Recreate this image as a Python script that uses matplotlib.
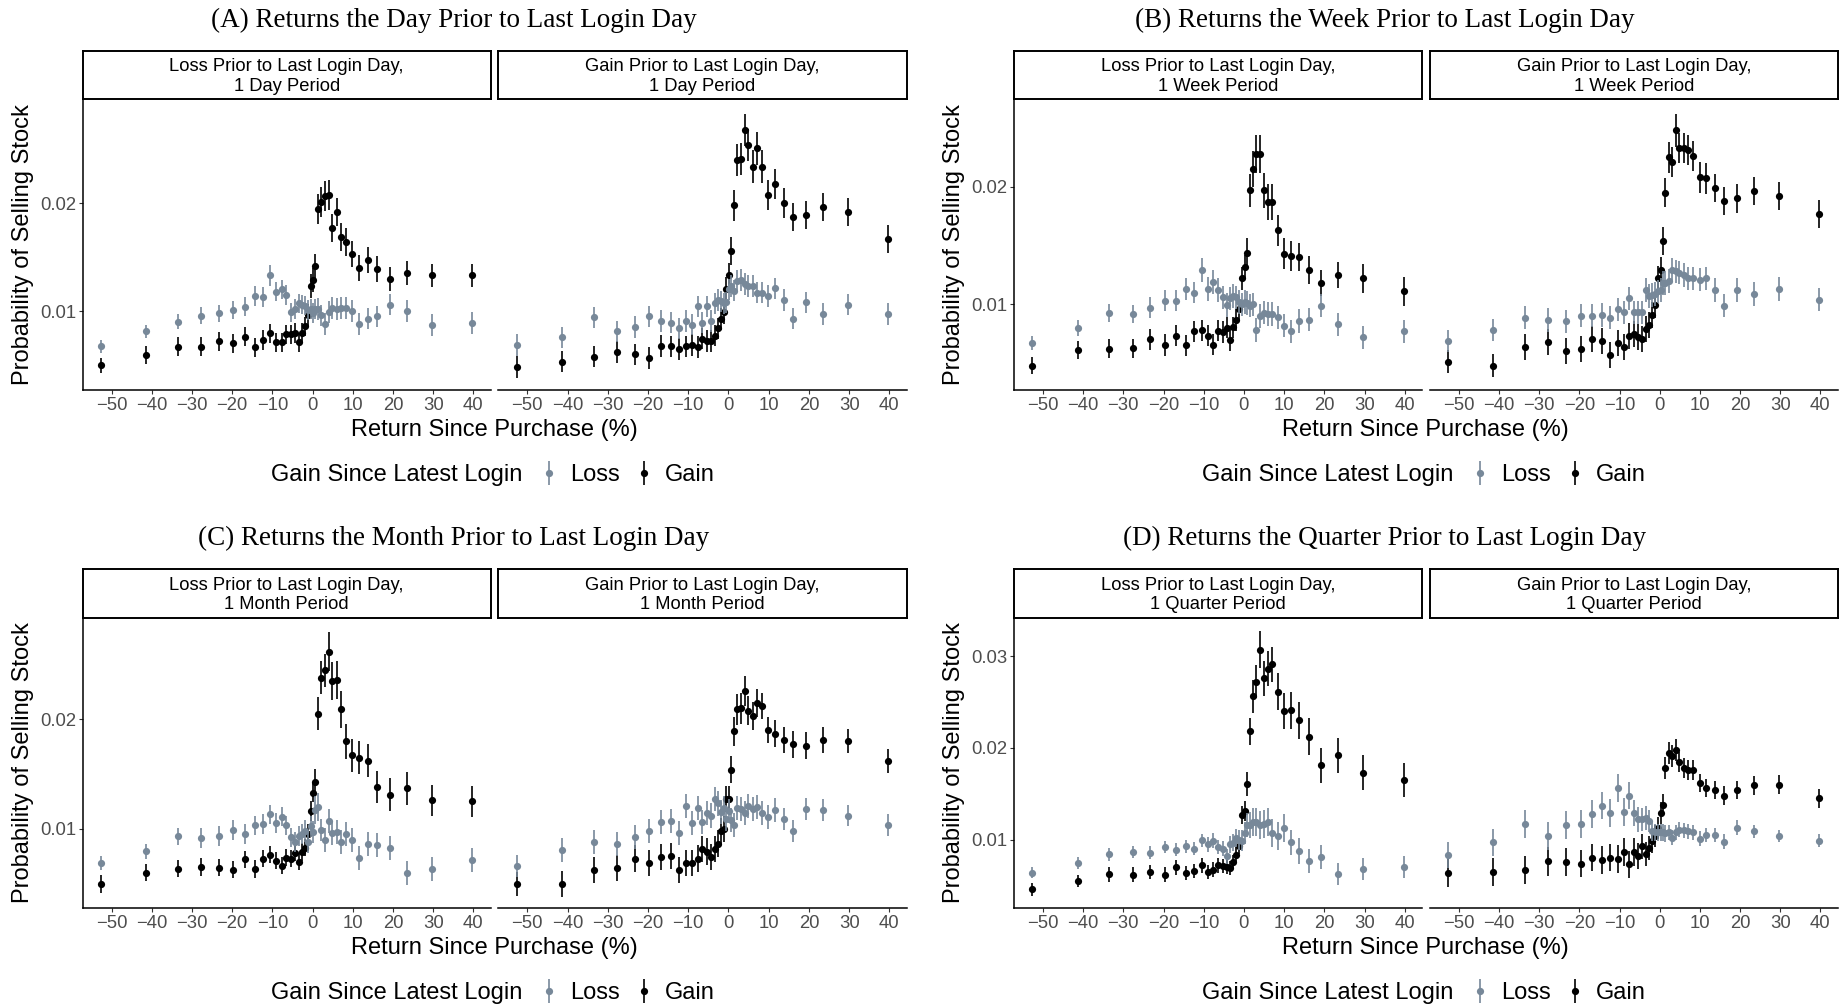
import matplotlib
matplotlib.use('Agg')
import matplotlib.pyplot as plt
import numpy as np

plt.rcParams['font.family'] = ['Liberation Sans', 'DejaVu Sans']

# return-since-purchase bins (%), shared by every facet
ret_bins = [-52.6, -41.4, -33.5, -27.7, -23.3, -19.7, -16.8, -14.3, -12.3, -10.5,
            -9.0, -7.6, -6.5, -5.3, -4.3, -3.4, -2.6, -1.9, -1.2, -0.5,
            0.2, 0.7, 1.4, 2.2, 3.1, 4.0, 4.9, 6.0, 7.0, 8.4,
            9.9, 11.6, 13.7, 16.1, 19.2, 23.4, 29.6, 39.7]
x_ticks = [-50, -40, -30, -20, -10, 0, 10, 20, 30, 40]

# (A) day period -- facet 1: loss prior, facet 2: gain prior
a1_loss = [0.00675, 0.00814, 0.0090, 0.00957, 0.00978, 0.0101, 0.0104, 0.0114, 0.0113, 0.0133,
           0.0118, 0.0120, 0.0115, 0.00988, 0.0102, 0.0107, 0.0106, 0.0105, 0.0101, 0.0102,
           0.0098, 0.0102, 0.0102, 0.0096, 0.0088, 0.0099, 0.0103, 0.0102, 0.0103, 0.0103,
           0.0100, 0.0088, 0.0093, 0.0095, 0.0106, 0.0100, 0.0087, 0.0089]
a1_gain = [0.00498, 0.00591, 0.00669, 0.00669, 0.00718, 0.0070, 0.00762, 0.00663, 0.0073, 0.00793,
           0.0071, 0.0071, 0.00783, 0.00783, 0.00796, 0.0071, 0.0080, 0.00858, 0.00963, 0.0123,
           0.0129, 0.0142, 0.0195, 0.0201, 0.0207, 0.0208, 0.0177, 0.0192, 0.0169, 0.0164,
           0.0153, 0.0140, 0.0147, 0.0139, 0.0130, 0.0135, 0.0133, 0.0133]
a2_loss = [0.00684, 0.00755, 0.00941, 0.00811, 0.00851, 0.0095, 0.00907, 0.00892, 0.00839, 0.00907,
           0.00873, 0.01043, 0.00892, 0.01043, 0.00907, 0.0107, 0.0110, 0.0109, 0.0107, 0.0108,
           0.0120, 0.0123, 0.0119, 0.0128, 0.0129, 0.0125, 0.0123, 0.0123, 0.0117, 0.0117,
           0.0114, 0.0121, 0.0110, 0.0093, 0.0108, 0.0097, 0.0106, 0.0097]
a2_gain = [0.00483, 0.0053, 0.00576, 0.00622, 0.00598, 0.00563, 0.00675, 0.00672, 0.0065, 0.00672,
           0.00684, 0.00666, 0.00743, 0.00721, 0.00721, 0.00771, 0.00839, 0.00926, 0.00994, 0.0120,
           0.0133, 0.0156, 0.0198, 0.0240, 0.0241, 0.0268, 0.0254, 0.0234, 0.0251, 0.0234,
           0.0208, 0.0218, 0.0200, 0.0187, 0.0189, 0.0197, 0.0192, 0.0167]

# (B) week period
b1_loss = [0.00669, 0.00799, 0.00926, 0.00918, 0.00972, 0.0103, 0.0103, 0.0113, 0.0110, 0.0129,
           0.0113, 0.0119, 0.0112, 0.0106, 0.00994, 0.0105, 0.0107, 0.0106, 0.0102, 0.0100,
           0.0102, 0.0101, 0.0099, 0.0100, 0.0078, 0.0090, 0.0093, 0.0092, 0.0092, 0.0089,
           0.0082, 0.0077, 0.0086, 0.0087, 0.0099, 0.0083, 0.0072, 0.0077]
b1_gain = [0.00479, 0.00612, 0.00623, 0.00626, 0.00703, 0.00654, 0.00734, 0.00652, 0.0077, 0.00779,
           0.00734, 0.00657, 0.00776, 0.00765, 0.00802, 0.00694, 0.00805, 0.00867, 0.00958, 0.0122,
           0.0132, 0.0144, 0.0197, 0.0215, 0.0228, 0.0228, 0.0197, 0.0187, 0.0187, 0.0163,
           0.0143, 0.0141, 0.0140, 0.0129, 0.0118, 0.0125, 0.0122, 0.0111]
b2_loss = [0.00688, 0.00782, 0.00887, 0.00867, 0.00856, 0.00904, 0.00904, 0.0091, 0.00887, 0.00958,
           0.00932, 0.0105, 0.00932, 0.00932, 0.00932, 0.0112, 0.0107, 0.0108, 0.0109, 0.0111,
           0.0112, 0.0118, 0.0118, 0.0120, 0.0129, 0.0128, 0.0127, 0.0125, 0.0122, 0.0122,
           0.0121, 0.0122, 0.0112, 0.0099, 0.0112, 0.0109, 0.0113, 0.0104]
b2_gain = [0.00513, 0.00479, 0.00635, 0.00677, 0.00606, 0.00618, 0.00708, 0.00688, 0.00567, 0.00669,
           0.0064, 0.00734, 0.00745, 0.00722, 0.00705, 0.00788, 0.00824, 0.00909, 0.00994, 0.0122,
           0.0129, 0.0154, 0.0195, 0.0225, 0.0221, 0.0248, 0.0233, 0.0233, 0.0231, 0.0226,
           0.0208, 0.0207, 0.0199, 0.0188, 0.0190, 0.0196, 0.0192, 0.0177]

# (C) month period
c1_loss = [0.00686, 0.00793, 0.0093, 0.00915, 0.0093, 0.0099, 0.0095, 0.0103, 0.0104, 0.0113,
           0.0105, 0.0111, 0.0103, 0.0092, 0.0088, 0.0093, 0.0095, 0.0098, 0.0088, 0.0102,
           0.0097, 0.0117, 0.0120, 0.0099, 0.0090, 0.0107, 0.0096, 0.0097, 0.0088, 0.0095,
           0.0090, 0.0073, 0.0086, 0.0085, 0.0082, 0.0059, 0.0063, 0.0071]
c1_gain = [0.00494, 0.00598, 0.00634, 0.0065, 0.00643, 0.00625, 0.0072, 0.00631, 0.00726, 0.00762,
           0.00707, 0.00662, 0.00735, 0.00726, 0.0078, 0.00698, 0.00787, 0.00826, 0.00954, 0.0116,
           0.0133, 0.0143, 0.0205, 0.0238, 0.0245, 0.0262, 0.0235, 0.0236, 0.0209, 0.0180,
           0.0167, 0.0165, 0.0162, 0.0138, 0.0131, 0.0137, 0.0126, 0.0125]
c2_loss = [0.00662, 0.00808, 0.00878, 0.00863, 0.00921, 0.00976, 0.0106, 0.0107, 0.0096, 0.0121,
           0.0105, 0.0119, 0.0106, 0.0114, 0.0112, 0.0127, 0.0123, 0.0115, 0.0119, 0.0109,
           0.0116, 0.0108, 0.0103, 0.0119, 0.0118, 0.0114, 0.0121, 0.0118, 0.0120, 0.0114,
           0.0111, 0.0117, 0.0109, 0.0098, 0.0118, 0.0117, 0.0112, 0.0103]
c2_gain = [0.00497, 0.00497, 0.00625, 0.00643, 0.00726, 0.00689, 0.00741, 0.00747, 0.00625, 0.00689,
           0.00689, 0.00726, 0.00817, 0.0079, 0.00738, 0.00811, 0.00863, 0.0098, 0.0100, 0.0127,
           0.0127, 0.0154, 0.0189, 0.0209, 0.0210, 0.0226, 0.0208, 0.0203, 0.0215, 0.0212,
           0.0190, 0.0187, 0.0181, 0.0177, 0.0176, 0.0181, 0.0180, 0.0162]

# (D) quarter period
d1_loss = [0.0064, 0.00746, 0.0084, 0.00866, 0.00858, 0.0092, 0.00891, 0.00927, 0.00902, 0.00993,
           0.00949, 0.00989, 0.0092, 0.00902, 0.00819, 0.00949, 0.00967, 0.0102, 0.0100, 0.0099,
           0.0107, 0.0116, 0.0116, 0.0119, 0.0119, 0.0116, 0.0117, 0.0119, 0.0107, 0.0104,
           0.0113, 0.0097, 0.00873, 0.00768, 0.00811, 0.0063, 0.00677, 0.00702]
d1_gain = [0.00459, 0.0055, 0.00623, 0.00619, 0.00648, 0.00619, 0.00699, 0.00637, 0.00659, 0.0072,
           0.00648, 0.00673, 0.0072, 0.00713, 0.00702, 0.00691, 0.00757, 0.00837, 0.00927, 0.0127,
           0.0131, 0.0161, 0.0218, 0.0256, 0.0272, 0.0307, 0.0276, 0.0286, 0.0291, 0.0261,
           0.0240, 0.0241, 0.0230, 0.0212, 0.0181, 0.0192, 0.0173, 0.0165]
d2_loss = [0.00837, 0.00971, 0.0117, 0.0104, 0.0116, 0.0117, 0.0128, 0.0137, 0.0129, 0.0156,
           0.0130, 0.0148, 0.0129, 0.0122, 0.0122, 0.0124, 0.0120, 0.0109, 0.0108, 0.0108,
           0.0108, 0.0108, 0.0107, 0.0108, 0.0102, 0.0108, 0.0111, 0.0110, 0.0109, 0.0108,
           0.0101, 0.0105, 0.0105, 0.0098, 0.0113, 0.0109, 0.0104, 0.0099]
d2_gain = [0.0064, 0.00648, 0.0067, 0.00764, 0.00757, 0.00739, 0.00804, 0.00779, 0.00804, 0.00789,
           0.00866, 0.00731, 0.00866, 0.00826, 0.00927, 0.00848, 0.00913, 0.00982, 0.0104, 0.0113,
           0.0129, 0.0138, 0.0178, 0.0194, 0.0191, 0.0198, 0.0185, 0.0178, 0.0176, 0.0176,
           0.0162, 0.0156, 0.0154, 0.0148, 0.0154, 0.0159, 0.0160, 0.0145]

# half-width of the error bars, in units of 1e-4
a1_loss_se = [6, 6, 7, 8, 8, 8, 9, 9, 9, 10, 9, 9, 9, 9, 9, 9, 9, 9, 9, 9,
              9, 9, 10, 10, 10, 10, 10, 10, 10, 10, 10, 10, 10, 10, 10, 10, 10, 10]
a1_gain_se = [7, 8, 9, 9, 9, 9, 9, 9, 9, 9, 9, 9, 9, 9, 9, 9, 9, 9, 10, 11,
              11, 11, 14, 14, 14, 14, 13, 13, 13, 13, 12, 12, 12, 12, 11, 11, 11, 11]
a2_loss_se = [10, 10, 10, 10, 10, 10, 10, 10, 10, 10, 10, 10, 10, 10, 10, 10, 10, 10, 10, 10,
              10, 10, 10, 10, 10, 10, 10, 10, 10, 10, 10, 10, 10, 10, 10, 10, 10, 10]
a2_gain_se = [10, 10, 10, 10, 10, 10, 10, 10, 10, 10, 10, 10, 10, 10, 10, 10, 10, 10, 11, 12,
              12, 13, 14, 15, 15, 15, 15, 15, 15, 15, 14, 14, 14, 13, 13, 13, 13, 13]
b1_loss_se = [6, 7, 8, 8, 9, 9, 9, 9, 9, 10, 10, 10, 10, 10, 10, 10, 10, 10, 10, 10,
              10, 10, 10, 10, 10, 10, 10, 10, 10, 10, 10, 10, 10, 10, 10, 10, 10, 10]
b1_gain_se = [7, 8, 8, 8, 9, 9, 9, 9, 9, 9, 9, 9, 9, 9, 9, 9, 9, 9, 9, 10,
              10, 12, 14, 15, 16, 16, 15, 15, 15, 13, 13, 13, 12, 12, 11, 11, 12, 12]
b2_loss_se = [9, 9, 10, 10, 10, 10, 10, 10, 10, 10, 10, 10, 10, 10, 10, 10, 10, 10, 10, 10,
              10, 10, 10, 10, 10, 10, 10, 10, 10, 10, 10, 10, 10, 10, 10, 10, 10, 10]
b2_gain_se = [10, 10, 11, 11, 11, 11, 11, 11, 11, 11, 11, 11, 11, 11, 11, 11, 11, 11, 11, 11,
              11, 12, 12, 13, 13, 14, 13, 13, 13, 13, 13, 13, 12, 12, 12, 12, 12, 12]
c1_loss_se = [6, 7, 8, 9, 9, 9, 9, 9, 9, 9, 9, 9, 9, 9, 9, 9, 9, 10, 10, 10,
              10, 13, 13, 10, 11, 11, 11, 11, 11, 11, 11, 11, 11, 11, 11, 11, 11, 11]
c1_gain_se = [8, 8, 8, 8, 8, 8, 8, 8, 8, 8, 8, 8, 8, 8, 8, 8, 8, 8, 9, 9,
              9, 12, 15, 15, 15, 18, 17, 17, 17, 16, 15, 15, 15, 15, 15, 15, 14, 14]
c2_loss_se = [10, 11, 11, 11, 11, 11, 11, 11, 11, 11, 11, 11, 11, 11, 11, 11, 11, 11, 11, 11,
              11, 11, 11, 11, 11, 11, 11, 11, 11, 11, 11, 11, 10, 10, 10, 10, 10, 10]
c2_gain_se = [11, 12, 12, 12, 12, 12, 12, 12, 12, 12, 12, 12, 12, 12, 12, 12, 12, 12, 12, 12,
              12, 12, 13, 14, 14, 14, 13, 13, 13, 12, 12, 12, 12, 12, 12, 12, 11, 11]
d1_loss_se = [6, 7, 7, 7, 7, 7, 7, 7, 7, 7, 8, 8, 8, 8, 8, 9, 9, 10, 11, 11,
              12, 13, 14, 15, 15, 15, 15, 15, 15, 15, 15, 14, 14, 13, 13, 12, 12, 12]
d1_gain_se = [7, 7, 8, 8, 8, 8, 8, 8, 8, 8, 8, 8, 8, 8, 8, 8, 8, 8, 8, 10,
              11, 13, 15, 18, 18, 20, 19, 19, 19, 20, 20, 20, 20, 20, 19, 19, 19, 19]
d2_loss_se = [14, 15, 15, 15, 15, 15, 15, 15, 15, 15, 15, 15, 14, 14, 13, 13, 12, 10, 9, 9,
              9, 9, 9, 8, 8, 8, 8, 8, 8, 8, 8, 8, 8, 8, 8, 7, 7, 7]
d2_gain_se = [15, 15, 15, 16, 15, 15, 15, 15, 15, 15, 15, 15, 15, 14, 14, 13, 13, 13, 12, 12,
              12, 12, 12, 12, 12, 12, 11, 11, 11, 11, 10, 10, 10, 10, 10, 10, 10, 10]

titles = ['(A) Returns the Day Prior to Last Login Day',
          '(B) Returns the Week Prior to Last Login Day',
          '(C) Returns the Month Prior to Last Login Day',
          '(D) Returns the Quarter Prior to Last Login Day']
periods = ['1 Day Period', '1 Week Period', '1 Month Period', '1 Quarter Period']
facet_names = ['Loss Prior to Last Login Day,', 'Gain Prior to Last Login Day,']

GRAY = '#778899'
BLACK = '#000000'
W, H = 1847, 1006


def rect(x0, y0, x1, y1):
    # pixel box (top-left origin) -> figure fraction
    return [x0 / W, 1 - y1 / H, (x1 - x0) / W, (y1 - y0) / H]


def draw_facet(ax, loss, loss_se, gain, gain_se, ylim, yticks, first):
    hb = ax.errorbar(ret_bins, gain, yerr=np.array(gain_se) * 1e-4, fmt='o', color=BLACK,
                     ms=5.2, mew=0, elinewidth=1.2, capsize=0, zorder=2)
    hl = ax.errorbar(ret_bins, loss, yerr=np.array(loss_se) * 1e-4, fmt='o', color=GRAY,
                     ms=5.2, mew=0, elinewidth=1.2, capsize=0, zorder=3)
    ax.set_xlim(-57.2, 44.3)
    ax.set_ylim(*ylim)
    ax.set_xticks(x_ticks)
    ax.set_yticks(yticks)
    ax.set_yticklabels(['%.2f' % t for t in yticks])
    for s in ['top', 'right']:
        ax.spines[s].set_visible(False)
    ax.spines['bottom'].set_linewidth(1.1)
    ax.spines['left'].set_linewidth(1.1)
    ax.tick_params(length=2.8, width=0.8, color='#333333', labelcolor='#4D4D4D',
                   labelsize=13.3, pad=2)
    if not first:
        ax.spines['left'].set_visible(False)
        ax.tick_params(axis='y', left=False, labelleft=False)
    return hl, hb


fig = plt.figure(figsize=(W / 100, H / 100), dpi=100)

cols = [[(82.7, 490.7), (498.3, 906.7)], [(1014, 1422), (1430, 1837.7)]]
rows = [(51, 99, 390), (569, 618, 908)]

groups = [
    (0, 0, a1_loss, a1_loss_se, a1_gain, a1_gain_se, a2_loss, a2_loss_se, a2_gain, a2_gain_se,
     (0.00267, 0.02968), [0.01, 0.02]),
    (0, 1, b1_loss, b1_loss_se, b1_gain, b1_gain_se, b2_loss, b2_loss_se, b2_gain, b2_gain_se,
     (0.00272, 0.02745), [0.01, 0.02]),
    (1, 0, c1_loss, c1_loss_se, c1_gain, c1_gain_se, c2_loss, c2_loss_se, c2_gain, c2_gain_se,
     (0.00274, 0.02927), [0.01, 0.02]),
    (1, 1, d1_loss, d1_loss_se, d1_gain, d1_gain_se, d2_loss, d2_loss_se, d2_gain, d2_gain_se,
     (0.00256, 0.03414), [0.01, 0.02, 0.03]),
]

for gi, g in enumerate(groups):
    r, c = g[0], g[1]
    st_top, ax_top, ax_bot = rows[r]
    facets = [(g[2], g[3], g[4], g[5]), (g[6], g[7], g[8], g[9])]
    handles = None
    for k, (x0, x1) in enumerate(cols[c]):
        ax = fig.add_axes(rect(x0, ax_top, x1, ax_bot))
        h = draw_facet(ax, *facets[k], g[10], g[11], k == 0)
        if handles is None:
            handles = h
        # strip on top of the facet
        st = fig.add_axes(rect(x0, st_top, x1, ax_top))
        st.set_xticks([])
        st.set_yticks([])
        for sp in st.spines.values():
            sp.set_linewidth(1.4)
        st.text(0.5, 0.47, facet_names[k] + '\n' + periods[gi], ha='center', va='center',
                fontsize=13.2, linespacing=1.2, transform=st.transAxes)

    gx0 = cols[c][0][0]
    gx1 = cols[c][1][1]
    gcx = (gx0 + gx1) / 2
    # subfigure title
    fig.text((gx0 - 82.7 + 453.5) / W, 1 - (st_top - 31) / H, titles[gi], ha='center', va='center',
             fontsize=19.5, family=['Liberation Serif', 'DejaVu Serif'])
    # axis titles
    fig.text((gx0 - 60) / W, 1 - (ax_top + ax_bot) / 2 / H, 'Probability of Selling Stock',
             rotation=90, ha='center', va='center', fontsize=17)
    fig.text(gcx / W, 1 - (ax_bot + 40) / H, 'Return Since Purchase (%)',
             ha='center', va='center', fontsize=17)
    # legend
    ly = 1 - (ax_bot + 85) / H
    fig.text((gcx - 223.5) / W, ly, 'Gain Since Latest Login', ha='left', va='center', fontsize=17)
    fig.legend(handles=list(handles), labels=['Loss', 'Gain'], loc='center left',
               bbox_to_anchor=((gcx + 45) / W, ly), ncol=2, frameon=False, fontsize=17,
               handlelength=0.8, handletextpad=0.5, columnspacing=0.6,
               borderpad=0, borderaxespad=0)

fig.savefig('out.png', dpi=100)
